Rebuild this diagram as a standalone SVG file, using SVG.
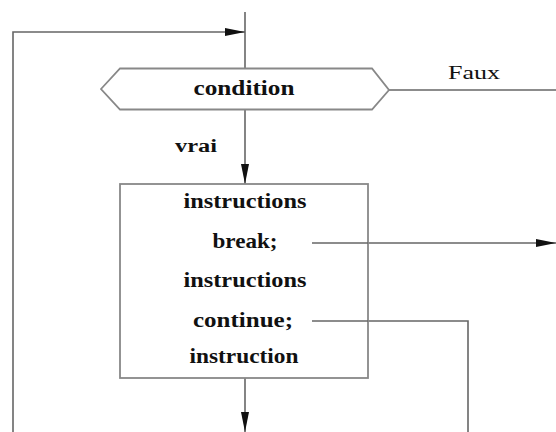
<svg xmlns="http://www.w3.org/2000/svg" width="556" height="432" viewBox="0 0 556 432">
<style>
.ln{fill:none;stroke:#666;stroke-width:1.6}
.sh{fill:#fff;stroke:#888;stroke-width:1.8}
.t{font-family:"Liberation Serif",serif;font-size:21px;fill:#111;font-weight:bold}
.s{font-family:"Liberation Serif",serif;font-size:18px;fill:#111}
.m{text-anchor:middle}
</style>
<defs>
<marker id="ah" markerWidth="20" markerHeight="10" refX="20" refY="5" orient="auto" markerUnits="userSpaceOnUse">
<path d="M0,1 L20,5 L0,9 Z" fill="#111"/>
</marker>
</defs>
<g id="connectors">
<path class="ln" d="M245,12 V68"/>
<path class="ln" d="M13,432 V32 H245" marker-end="url(#ah)"/>
<path class="ln" d="M245,110 V184" marker-end="url(#ah)"/>
<path class="ln" d="M389,90 H556"/>
<path class="ln" d="M312,243 H556" marker-end="url(#ah)"/>
<path class="ln" d="M312,321 H468 V432"/>
<path class="ln" d="M245,378 V432" marker-end="url(#ah)"/>
<text class="s" x="175" y="152" textLength="42" lengthAdjust="spacingAndGlyphs" font-size="20" font-weight="bold">vrai</text>
<text class="s" x="448" y="79" textLength="52" lengthAdjust="spacingAndGlyphs">Faux</text>
</g>
<g id="condition">
<polygon class="sh" points="101,89 120,68.5 372,68.5 389,90 372,109.5 120,109.5"/>
<text class="t m" x="244" y="95" textLength="101" lengthAdjust="spacingAndGlyphs">condition</text>
</g>
<g id="body">
<rect class="sh" x="120" y="184" width="248" height="194"/>
<text class="t m" x="245" y="208" textLength="123" lengthAdjust="spacingAndGlyphs">instructions</text>
<text class="t m" x="245" y="248" textLength="65" lengthAdjust="spacingAndGlyphs">break;</text>
<text class="t m" x="245" y="287" textLength="123" lengthAdjust="spacingAndGlyphs">instructions</text>
<text class="t m" x="243" y="327" textLength="100" lengthAdjust="spacingAndGlyphs">continue;</text>
<text class="t m" x="244" y="363" textLength="109" lengthAdjust="spacingAndGlyphs">instruction</text>
</g>
<path class="ln" d="M312,243 H368"/>
<path class="ln" d="M312,321 H368"/>
</svg>
